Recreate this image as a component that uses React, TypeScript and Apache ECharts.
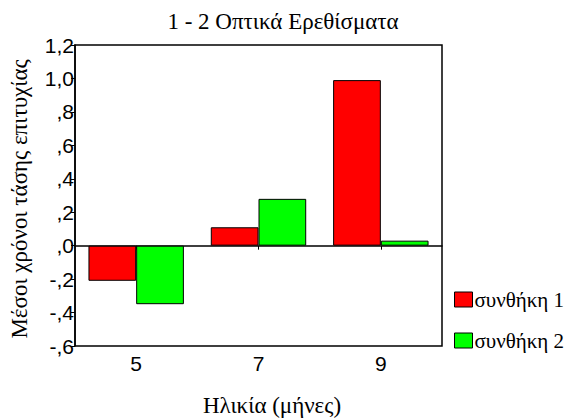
import React, { useEffect, useRef } from "react";
import * as echarts from "echarts";

const categories = ["5", "7", "9"];
const series1Name = "συνθήκη 1";
const series2Name = "συνθήκη 2";
const series1Values = [-0.21, 0.11, 0.99];
const series2Values = [-0.35, 0.28, 0.03];
const chartTitle = "1 - 2 Οπτικά Ερεθίσματα";
const xTitle = "Ηλικία (μήνες)";
const yTitle = "Μέσοι χρόνοι τάσης επιτυχίας";

function fmt(v: number): string {
  const r = Math.round(v * 10) / 10;
  let s = Math.abs(r).toFixed(1).replace(".", ",");
  if (Math.abs(r) < 1) s = s.replace(/^0/, "");
  return (r < 0 ? "-" : "") + s;
}

export default function App() {
  const ref = useRef<HTMLDivElement>(null);
  useEffect(() => {
    if (!ref.current) return;
    const chart = echarts.init(ref.current, null, { renderer: "svg" });
    const serif = "Liberation Serif";
    const sans = "Liberation Sans";
    chart.setOption({
      animation: false,
      backgroundColor: "#fff",
      grid: {
        left: 75,
        top: 45,
        right: 128,
        bottom: 74,
        show: true,
        borderColor: "#000",
        borderWidth: 1.5,
        backgroundColor: "transparent",
      },
      legend: {
        orient: "vertical",
        left: 449,
        top: 284,
        itemWidth: 18,
        itemHeight: 15,
        itemGap: 20,
        icon: "rect",
        itemStyle: { borderColor: "#000", borderWidth: 1 },
        textStyle: { fontFamily: serif, fontSize: 21, color: "#000", padding: [0, 0, 0, -3] },
        data: [series1Name, series2Name],
      },
      xAxis: {
        type: "category",
        data: categories,
        axisLine: { lineStyle: { color: "#000", width: 1.5 } },
        axisTick: { show: true, alignWithLabel: true, length: 4, lineStyle: { color: "#000" } },
        axisLabel: { fontFamily: sans, fontSize: 21, color: "#000", margin: 7 },
      },
      yAxis: {
        type: "value",
        min: -0.6,
        max: 1.2,
        interval: 0.2,
        splitLine: { show: false },
        axisLine: { show: true, lineStyle: { color: "#000", width: 1.5 } },
        axisTick: { show: true, length: 4, lineStyle: { color: "#000" } },
        axisLabel: { fontFamily: sans, fontSize: 21, color: "#000", margin: 1, formatter: fmt },
      },
      series: [
        {
          name: series1Name,
          type: "bar",
          data: series1Values,
          barGap: "0%",
          barCategoryGap: "22%",
          itemStyle: { color: "#ff0000", borderColor: "#000", borderWidth: 1 },
        },
        {
          name: series2Name,
          type: "bar",
          data: series2Values,
          barGap: "0%",
          barCategoryGap: "22%",
          itemStyle: { color: "#00ff00", borderColor: "#000", borderWidth: 1 },
        },
      ],
      graphic: [
        {
          type: "text",
          x: 283,
          y: 21,
          style: {
            text: chartTitle,
            fontFamily: serif,
            fontSize: 23,
            fill: "#000",
            align: "center",
            verticalAlign: "middle",
          },
        },
        {
          type: "text",
          x: 272,
          y: 405,
          style: {
            text: xTitle,
            fontFamily: serif,
            fontSize: 23,
            fill: "#000",
            align: "center",
            verticalAlign: "middle",
          },
        },
        {
          type: "text",
          x: 19,
          y: 199,
          rotation: Math.PI / 2,
          style: {
            text: yTitle,
            fontFamily: serif,
            fontSize: 23,
            fill: "#000",
            align: "center",
            verticalAlign: "middle",
          },
        },
      ],
    });
    return () => chart.dispose();
  }, []);
  return (
    <div
      ref={ref}
      style={{ position: "fixed", left: 0, top: 0, width: 570, height: 420 }}
    />
  );
}
